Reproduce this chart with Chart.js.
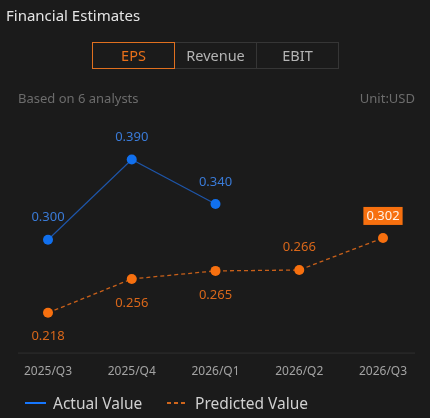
<!DOCTYPE html>
<html>
<head>
<meta charset="utf-8">
<script src="https://cdn.jsdelivr.net/npm/chart.js@4"></script>
<style>
  html, body { margin: 0; padding: 0; background: #1b1b1b; }
  body { width: 430px; height: 418px; position: relative; overflow: hidden; font-family: "Noto Sans", sans-serif; }
  #title { position: absolute; left: 6px; top: 5px; font-size: 15px; color: #e4e4e4; }
  .tabs { position: absolute; left: 93px; top: 42px; display: flex; }
  .tab { width: 83px; line-height: 25px; text-align: center; font-size: 14.5px; color: #b4b4b4; border: 1px solid #363636; box-sizing: border-box; height: 27px; margin-left: -1px; }
  .tab.active { color: #e8701a; border-color: #e0701f; position: relative; z-index: 1; }
  #analysts { position: absolute; left: 18px; top: 89px; font-size: 13px; color: #6c6c6c; }
  #unit { position: absolute; right: 15px; top: 89px; font-size: 13px; color: #6c6c6c; }
  #wrap { position: absolute; left: 0; top: 0; width: 430px; height: 418px; }
  .legend { position: absolute; top: 392px; font-size: 15.5px; color: #d0d0d0; display: flex; align-items: center; }
  .legend .mark { width: 21px; height: 2px; margin-right: 7px; }
</style>
</head>
<body>
<div id="wrap"><canvas id="lineChart" width="430" height="418"></canvas></div>
<div id="title">Financial Estimates</div>
<div class="tabs">
  <div class="tab active">EPS</div>
  <div class="tab">Revenue</div>
  <div class="tab">EBIT</div>
</div>
<div id="analysts">Based on 6 analysts</div>
<div id="unit">Unit:USD</div>
<div class="legend" style="left:25px"><span class="mark" style="background:#1677ff"></span>Actual Value</div>
<div class="legend" style="left:167px"><span class="mark" style="height:1.5px;background:repeating-linear-gradient(to right,#d0661c 0 4px,transparent 4px 7px)"></span>Predicted Value</div>

<script>
// quarters on the x axis
var quarters = ["2025/Q3", "2025/Q4", "2026/Q1", "2026/Q2", "2026/Q3"];
// EPS values (USD)
var actualEps = [0.300, 0.390, 0.340, null, null];
var predictedEps = [0.218, 0.256, 0.265, 0.266, 0.302];

// where each predicted label sits relative to its point
var predictedLabelSide = ["below", "below", "below", "above", "box"];

var blue = '#1170ee';
var orange = '#f7700f';

// draws value labels and the bottom axis line
var labelsPlugin = {
  id: 'valueLabels',
  afterDatasetsDraw: function (chart) {
    var ctx = chart.ctx;
    ctx.save();
    ctx.font = '13px "Noto Sans", sans-serif';
    ctx.textAlign = 'center';
    ctx.textBaseline = 'middle';

    // baseline
    var yb = chart.chartArea.bottom;
    ctx.strokeStyle = '#2f2f2f';
    ctx.lineWidth = 1;
    ctx.beginPath();
    ctx.moveTo(18, yb + 0.5);
    ctx.lineTo(415, yb + 0.5);
    ctx.stroke();

    var actualMeta = chart.getDatasetMeta(0);
    actualMeta.data.forEach(function (pt, i) {
      if (actualEps[i] == null) return;
      ctx.fillStyle = '#3a7bd8';
      ctx.fillText(actualEps[i].toFixed(3), pt.x, pt.y - 22);
    });

    var predMeta = chart.getDatasetMeta(1);
    predMeta.data.forEach(function (pt, i) {
      var txt = predictedEps[i].toFixed(3);
      var side = predictedLabelSide[i];
      if (side == 'box') {
        var w = ctx.measureText(txt).width + 6;
        ctx.fillStyle = orange;
        ctx.fillRect(pt.x - w / 2, pt.y - 31, w, 18);
        ctx.fillStyle = '#fff2e6';
        ctx.fillText(txt, pt.x, pt.y - 22);
      } else {
        ctx.fillStyle = '#d9671a';
        ctx.fillText(txt, pt.x, side == 'above' ? pt.y - 23 : pt.y + 24);
      }
    });
    ctx.restore();
  }
};

var ctxL = document.getElementById("lineChart").getContext('2d');
var myLineChart = new Chart(ctxL, {
  type: 'line',
  data: {
    labels: quarters,
    datasets: [{
        label: "Actual Value",
        data: actualEps,
        borderColor: '#1e55a8',
        borderWidth: 1.2,
        pointRadius: 5,
        pointBackgroundColor: blue,
        pointBorderWidth: 0,
        spanGaps: false,
        tension: 0
      },
      {
        label: "Predicted Value",
        data: predictedEps,
        borderColor: '#c8601a',
        borderWidth: 1.3,
        borderDash: [4, 3],
        pointRadius: 5,
        pointBackgroundColor: orange,
        pointBorderWidth: 0,
        tension: 0
      }
    ]
  },
  options: {
    responsive: false,
    animation: false,
    layout: {
      padding: { left: 48, right: 47, top: 115, bottom: 27 }
    },
    plugins: {
      legend: { display: false },
      tooltip: { enabled: false }
    },
    scales: {
      x: {
        offset: false,
        grid: { display: false, drawTicks: false },
        border: { display: false },
        ticks: {
          padding: 12,
          color: '#a3a3a3',
          font: { family: 'Noto Sans', size: 12 },
          maxRotation: 0,
          autoSkip: false
        }
      },
      y: {
        display: false,
        min: 0.1733,
        max: 0.44
      }
    }
  },
  plugins: [labelsPlugin]
});
</script>
</body>
</html>
